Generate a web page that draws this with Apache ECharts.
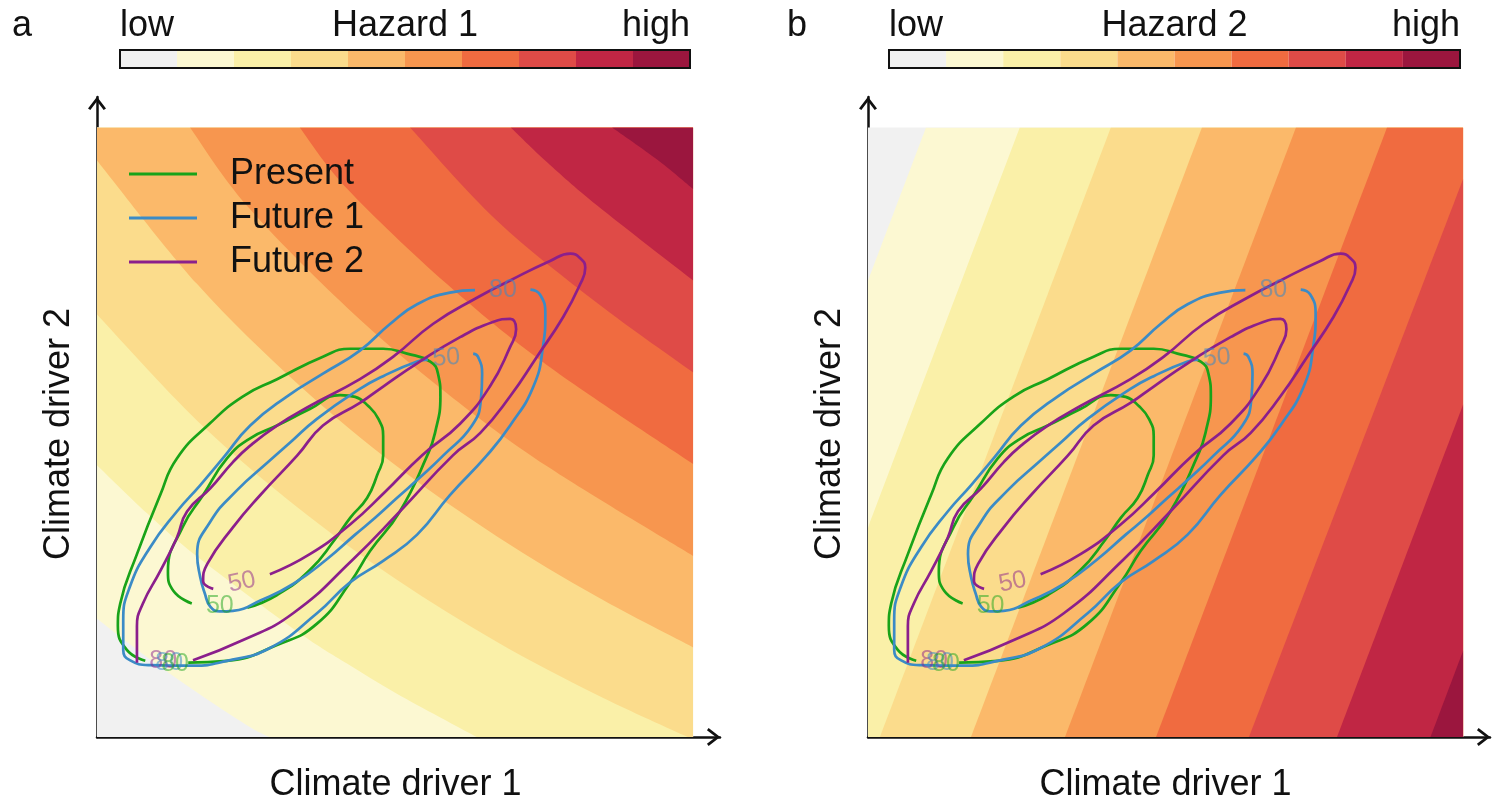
<!DOCTYPE html>
<html><head><meta charset="utf-8">
<script src="https://cdn.jsdelivr.net/npm/echarts@6/dist/echarts.min.js"></script>
<style>html,body{margin:0;padding:0;background:#fff}#c{width:1495px;height:808px}</style>
</head><body><div id="c"></div>
<script>
const FONT = '"Liberation Sans", Arial, Helvetica, sans-serif';

// hazard colour levels (low -> high)
const hazardColors = ['#f1f1f1','#fcf8d2','#faf0a8','#fbdc8c','#fbb96a','#f7964f','#f06b40','#df4b47','#c02644','#9b163e'];
const colorbarLevels = ['1','2','3','4','5','6','7','8','9','10'];
const panelLetters = ['a','b'];
const hazardNames = ['Hazard 1','Hazard 2'];
const plotBox = [[0,0],[100,0],[100,100],[0,100]];

// band boundaries of hazard 1 (level k-1 | level k), driver coordinates
const hazard1Bounds = [
  [[0,19.4],[8.4,13.1],[16.8,7.3],[25.2,1.9],[28.9,0]],
  [[0,44.6],[8.4,36.7],[16.8,29.6],[33.6,17.3],[42.0,12.0],[50.3,7.1],[63.7,0]],
  [[0,69.3],[16.8,51.9],[33.6,37.7],[50.3,25.8],[67.1,15.6],[83.9,6.9],[99.1,0]],
  [[0,94.6],[16.8,74.3],[33.6,58.0],[50.3,44.4],[67.1,32.9],[83.9,23.0],[100,14.7]],
  [[15.6,100],[25.2,87.1],[42.0,70.4],[58.7,56.4],[75.5,44.4],[100,29.7]],
  [[34.0,100],[42.0,89.9],[58.7,74.3],[75.5,61.0],[100,44.8]],
  [[52.5,100],[67.1,84.7],[83.9,71.2],[100,59.8]],
  [[69.4,100],[75.5,94.3],[83.9,87.2],[100,74.9]],
  [[86.4,100],[94.0,94.7],[100,89.9]]
];
// band boundaries of hazard 2 (straight, tilted)
const hazard2Bounds = [
  [[9.75,100],[0,74.9]],
  [[25.5,100],[0,34.3]],
  [[40.8,100],[2.0,0]],
  [[56.1,100],[17.3,0]],
  [[71.9,100],[33.1,0]],
  [[87.2,100],[48.4,0]],
  [[100,91.6],[64.0,0]],
  [[100,54.6],[78.8,0]],
  [[100,14.2],[94.5,0]]
];

// probability contours (80 = outer, 50 = inner)
const presentOuter = [[15.3,12.2],[21.8,12.5],[30.2,15.1],[36.9,18.6],[42.5,25.4],[45.8,30.5],[50.8,37.0],[55.4,46.2],[56.7,49.9],[57.6,55.9],[57.2,59.6],[55.9,61.6],[52.0,62.9],[48.0,63.7],[42.5,63.7],[37.9,62.4],[30.2,58.7],[24.5,55.9],[19.0,51.5],[13.4,45.7],[10.6,39.7],[6.7,30.0],[3.9,21.9],[3.5,18.2],[5.0,14.3],[8.1,12.5]];
const presentInner = [[25.2,21.2],[30.2,23.3],[35.7,27.4],[39.9,32.4],[42.5,36.0],[45.3,39.2],[47.0,43.0],[48.0,46.2],[48.0,49.4],[47.2,52.2],[45.5,54.3],[43.3,55.8],[40.8,56.1],[35.7,53.8],[30.2,51.1],[25.7,49.0],[21.8,45.7],[17.8,39.7],[14.4,34.5],[11.9,27.2],[12.8,24.0],[15.9,21.9]];
const future1Outer = [[72.7,73.4],[74.3,72.6],[75.2,69.4],[74.8,64.0],[73.2,57.5],[69.3,51.1],[65.4,46.2],[59.2,39.7],[53.7,33.2],[48.0,28.9],[42.5,25.4],[36.9,20.3],[29.0,14.6],[21.8,12.5],[16.1,11.7],[8.9,11.8],[5.5,12.6],[4.4,14.3],[4.4,19.1],[5.5,24.6],[8.9,31.1],[13.4,37.0],[17.3,41.3],[21.1,45.7],[25.7,51.1],[31.9,55.9],[37.9,59.6],[44.1,63.4],[49.2,67.8],[53.7,71.0],[59.2,72.9],[63.4,73.3]];
const future1Inner = [[63.1,62.9],[63.9,62.4],[64.6,59.6],[64.4,55.4],[62.9,51.1],[58.1,46.2],[54.2,42.6],[50.3,39.2],[46.7,36.0],[43.3,33.2],[38.6,29.2],[32.9,25.1],[27.4,22.4],[22.8,20.7],[20.6,20.6],[19.0,21.4],[18.1,23.5],[17.3,26.3],[16.8,30.0],[19.0,35.3],[23.5,40.5],[28.7,45.1],[32.4,48.3],[36.9,52.2],[44.1,57.1],[48.0,59.2],[53.7,61.6],[55.5,61.9]];
const future2Outer = [[16.1,12.6],[24.5,15.9],[32.9,20.3],[42.8,29.0],[50.8,37.0],[59.7,46.2],[64.3,49.9],[69.3,55.9],[73.8,62.4],[78.2,68.9],[81.0,74.2],[81.9,77.0],[81.0,78.6],[79.4,79.3],[76.0,78.1],[69.3,74.9],[63.8,72.1],[56.4,67.8],[49.7,62.4],[44.1,58.7],[35.7,54.3],[30.2,51.1],[25.7,47.8],[22.8,45.1],[19.0,40.8],[15.1,37.0],[13.4,32.7],[10.6,27.2],[7.7,21.9],[6.7,18.2],[6.7,12.2]];
const future2Inner = [[29.0,26.7],[35.7,30.0],[42.5,34.9],[48.3,40.2],[54.5,46.2],[60.9,51.4],[65.9,57.5],[69.3,64.0],[70.3,66.9],[69.3,68.6],[66.4,68.1],[60.9,65.6],[53.7,61.3],[48.0,57.5],[44.1,54.8],[37.9,51.1],[33.6,46.2],[27.4,39.7],[22.8,34.4],[18.5,28.4],[17.8,25.6],[19.5,24.3]];

// contour labels
const labelPos = [[68.1,73.3],[58.6,62.2],[24.3,25.4],[20.6,21.4],[11.1,12.5],[12.1,12.2],[13.1,12.0]];
const labelText = ['80','50','50','50','80','80','80'];
const labelGroup = [1,1,2,0,2,1,0];
const labelRotation = [0,4,12,0,0,0,0];

const scenarioNames = ['Present','Future 1','Future 2'];
const scenarioColors = ['#19a319','#3b8bc6','#8b1f8c'];
const scenarioLabelColors = ['rgba(25,163,25,0.5)','rgba(59,139,198,0.55)','rgba(139,31,140,0.5)'];
const contours = [[presentOuter, presentInner],[future1Outer, future1Inner],[future2Outer, future2Inner]];

function perim(p){
  const e = 0.01;
  if (Math.abs(p[1]) < e) return p[0];
  if (Math.abs(p[0]-100) < e) return 100 + p[1];
  if (Math.abs(p[1]-100) < e) return 300 - p[0];
  return 400 - p[1];
}
function cornersFor(line){
  const first = line[0], last = line[line.length-1];
  const t0 = perim(last); let t1 = perim(first); if (t1 < t0) t1 += 400;
  const out = [];
  for (let t = 0; t < 800; t += 100) if (t > t0 && t < t1) out.push(plotBox[(t/100)%4]);
  return out;
}
function f(v){ return v.toFixed(2); }
function smoothPath(P){
  let d = 'M' + f(P[0][0]) + ' ' + f(P[0][1]);
  for (let i = 0; i < P.length - 1; i++){
    const p0 = P[Math.max(i-1,0)], p1 = P[i], p2 = P[i+1], p3 = P[Math.min(i+2, P.length-1)];
    const c1 = [p1[0] + (p2[0]-p0[0])/6, p1[1] + (p2[1]-p0[1])/6];
    const c2 = [p2[0] - (p3[0]-p1[0])/6, p2[1] - (p3[1]-p1[1])/6];
    d += 'C' + f(c1[0]) + ' ' + f(c1[1]) + ' ' + f(c2[0]) + ' ' + f(c2[1]) + ' ' + f(p2[0]) + ' ' + f(p2[1]);
  }
  return d;
}
function bandSeries(bounds, idx){
  return {
    type:'custom', xAxisIndex:idx, yAxisIndex:idx, silent:true, z:1,
    data: hazardColors.map((c,i)=>[50,50,i]),
    renderItem:(params, api)=>{
      const i = params.dataIndex;
      const tl = api.coord([0,100]), br = api.coord([100,0]);
      const clip = {type:'rect', shape:{x:tl[0], y:tl[1], width:br[0]-tl[0], height:br[1]-tl[1]}};
      if (i === 0){
        return {type:'polygon', shape:{points: plotBox.map(p=>api.coord(p))}, style:{fill:hazardColors[0]}};
      }
      const line = bounds[i-1];
      const P = line.map(p=>api.coord(p));
      let d = smoothPath(P);
      cornersFor(line).forEach(c=>{ const q = api.coord(c); d += 'L' + f(q[0]) + ' ' + f(q[1]); });
      d += 'Z';
      return {type:'path', shape:{pathData:d}, style:{fill:hazardColors[i]}, clipPath:clip};
    }
  };
}

const arrowPath = 'path://M0,-10L0.01,-10L0.01,-9.99ZM0,0L7,9L5.2,10.3L0,3.4L-5.2,10.3L-7,9Z';
const mainGrids = [{left:97, top:97, width:623, height:648}, {left:868, top:97, width:622, height:648}];
const barGrids = [{left:120, top:50, width:570, height:18}, {left:889, top:50, width:571, height:18}];

const xAxes = [], yAxes = [], series = [], grids = [], titles = [];
[0,1].forEach(p=>{ grids.push(Object.assign({containLabel:false}, mainGrids[p])); });
[0,1].forEach(p=>{
  grids.push(Object.assign({show:true, borderColor:'#111', borderWidth:2, backgroundColor:'transparent', z:5}, barGrids[p]));
});
[0,1].forEach(p=>{
  xAxes.push({gridIndex:p, type:'value', min:0, max:104.5,
    axisLine:{show:true, onZero:false, lineStyle:{color:'#111', width:2.5}, symbol:['none', arrowPath], symbolSize:[18,28]},
    axisTick:{show:false}, axisLabel:{show:false}, splitLine:{show:false},
    name:'Climate driver 1', nameLocation:'middle', nameGap:30,
    nameTextStyle:{fontSize:36, fontFamily:FONT, color:'#111', padding:[0, p===0?26:27, 0, 0]}});
  yAxes.push({gridIndex:p, type:'value', min:0, max:105,
    axisLine:{show:true, onZero:false, lineStyle:{color:'#111', width:2.5}, symbol:['none', arrowPath], symbolSize:[18,28]},
    axisTick:{show:false}, axisLabel:{show:false}, splitLine:{show:false},
    name:'Climate driver 2', nameLocation:'middle', nameGap:20,
    nameTextStyle:{fontSize:36, fontFamily:FONT, color:'#111', padding:[0,34,0,0]}});
});
[0,1].forEach(p=>{
  xAxes.push({gridIndex:2+p, type:'category', data:colorbarLevels, show:false});
  yAxes.push({gridIndex:2+p, type:'value', min:0, max:1, show:false});
  series.push({type:'bar', xAxisIndex:2+p, yAxisIndex:2+p, silent:true, barWidth:'100%', barCategoryGap:0,
    data: colorbarLevels.map((l,i)=>({value:1, itemStyle:{color:hazardColors[i]}}))});
});

series.push(bandSeries(hazard1Bounds, 0));
series.push(bandSeries(hazard2Bounds, 1));

[0,1].forEach(p=>{
  contours.forEach((pair, s)=>{
    pair.forEach(line=>{
      series.push({type:'line', name:scenarioNames[s], xAxisIndex:p, yAxisIndex:p, data:line,
        smooth:0.5, symbol:'none', silent:true, z:3, color:scenarioColors[s],
        lineStyle:{color:scenarioColors[s], width:2.7}});
    });
  });
  series.push({type:'custom', xAxisIndex:p, yAxisIndex:p, silent:true, z:4,
    data: labelPos.map((q,i)=>[q[0],q[1],i]),
    renderItem:(params, api)=>{
      const i = params.dataIndex;
      const c = api.coord([api.value(0), api.value(1)]);
      return {type:'text', x:c[0], y:c[1], rotation: labelRotation[i]*Math.PI/180,
        style:{text:labelText[i], fill:scenarioLabelColors[labelGroup[i]], font:'25px ' + FONT,
          align:'center', verticalAlign:'middle', textAlign:'center', textVerticalAlign:'middle'}};
    }});
});

const ts = {fontSize:36, fontWeight:'normal', fontFamily:FONT, color:'#111'};
const barLeft = [120, 889], barRight = [690, 1460], letterLeft = [12, 787];
[0,1].forEach(p=>{
  titles.push({text:panelLetters[p], left:letterLeft[p], top:8, padding:0, textStyle:ts});
  titles.push({text:'low', left:barLeft[p], top:8, padding:0, textStyle:ts});
  titles.push({text:hazardNames[p], left:(barLeft[p]+barRight[p])/2, textAlign:'center', top:8, padding:0, textStyle:ts});
  titles.push({text:'high', right:1495-barRight[p], top:8, padding:0, textStyle:ts});
});

const chart = echarts.init(document.getElementById('c'), null, {renderer:'canvas'});
chart.setOption({
  animation:false,
  backgroundColor:'#ffffff',
  title:titles,
  legend:{show:true, left:129, top:156, padding:0, orient:'vertical', itemWidth:68, itemHeight:3, itemGap:8,
    icon:'rect', selectedMode:false, data:scenarioNames,
    textStyle:{fontSize:36, fontFamily:FONT, color:'#111', padding:[0,0,0,28]}},
  grid:grids, xAxis:xAxes, yAxis:yAxes, series:series
});
</script></body></html>
